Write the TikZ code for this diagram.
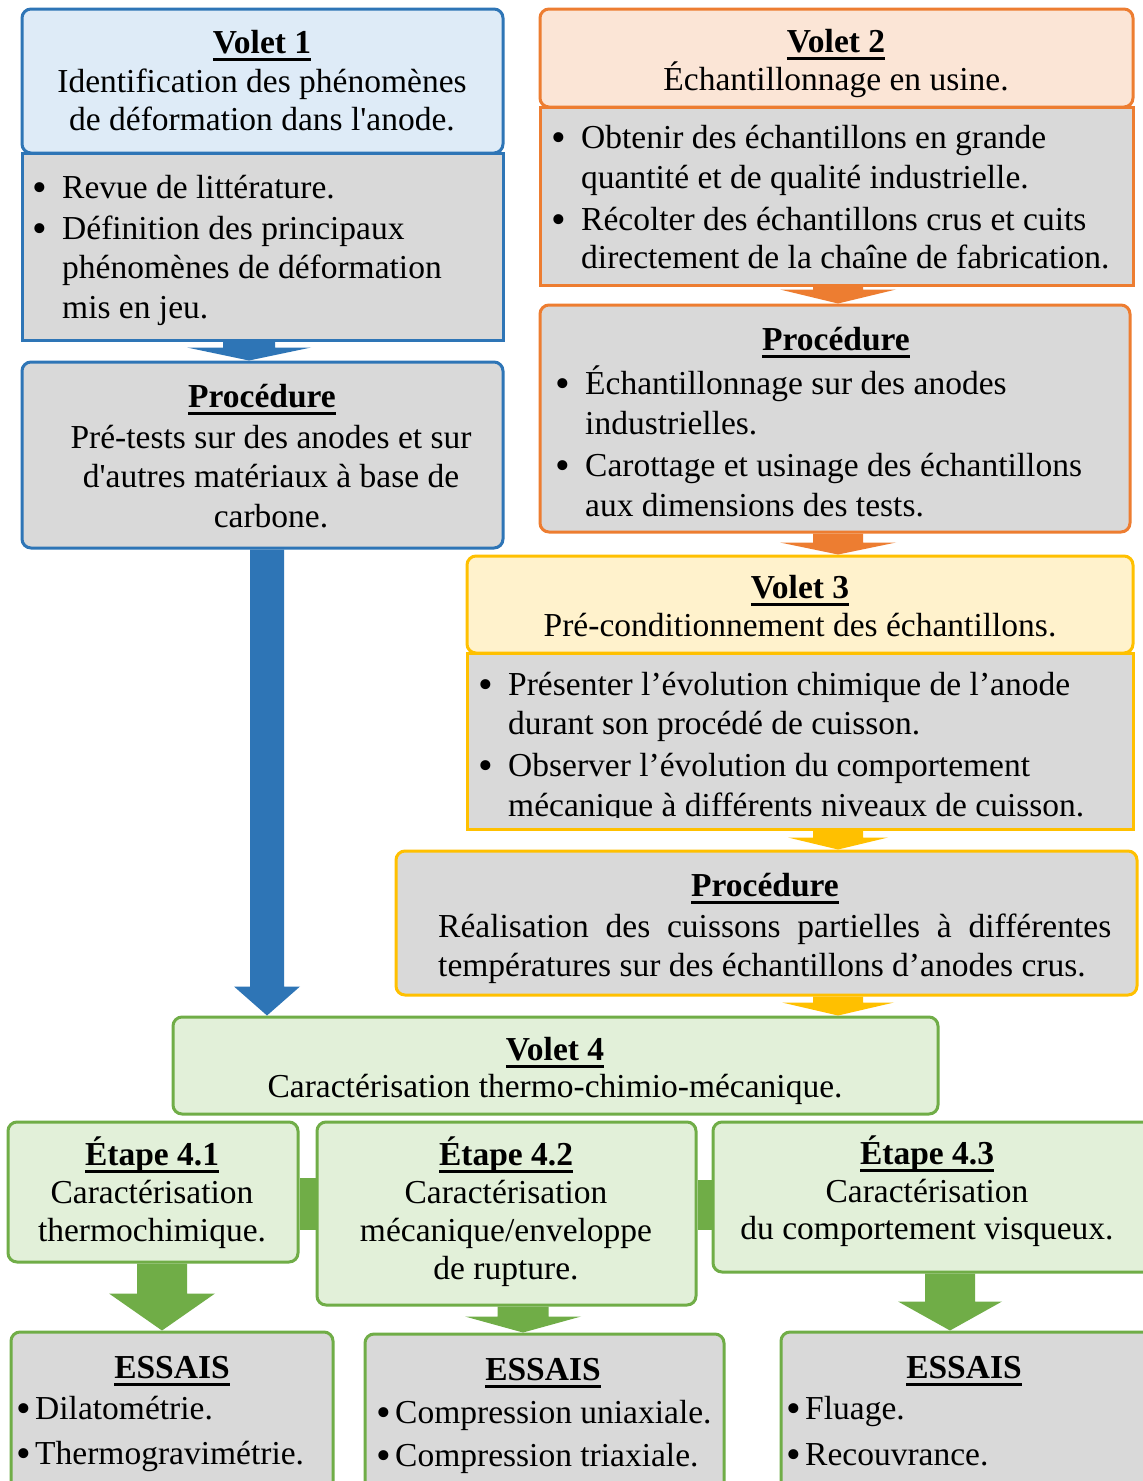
\documentclass[tikz,border=0pt]{standalone}
\usepackage{fontspec}
\usepackage{graphicx}
\newfontfamily\tnr{Liberation Serif}
\usetikzlibrary{fit,calc}
\definecolor{cblue}{HTML}{2E75B6}
\definecolor{lblue}{HTML}{DEEBF7}
\definecolor{corange}{HTML}{ED7D31}
\definecolor{lorange}{HTML}{FBE5D6}
\definecolor{cyellow}{HTML}{FFC000}
\definecolor{lyellow}{HTML}{FFF2CC}
\definecolor{cgreen}{HTML}{70AD47}
\definecolor{lgreen}{HTML}{E2F0D9}
\definecolor{cgray}{HTML}{D9D9D9}
\newcommand\ttl[1]{\setbox0=\hbox{\bfseries #1}\rlap{\rule[-7.5pt]{\wd0}{3pt}}\box0}
\newcommand\cl[2][39pt]{\vtop{\baselineskip=#1\relax\lineskiplimit=-100pt\halign{\hfil##\hfil\cr#2\crcr}}}
\newcommand\lf[2][39pt]{\vtop{\baselineskip=#1\relax\lineskiplimit=-100pt\halign{##\hfil\cr#2\crcr}}}
\newcommand\bigbul{\raisebox{-3pt}{\scalebox{1.25}{•}}}
\newcommand\bul{\llap{\makebox[29.5pt][l]{\bigbul}}}
\newcommand\sbul{\llap{\bigbul\hspace{4pt}}}
\newcommand\dnarrow[7]{% color, x, from, to, shaft hw, head hw, head length
  \fill[#1] let \p1=(#2,0 |- #3.south), \p2=(#2,0 |- #4.north) in
   (\x1-#5pt,\y1) -- (\x1+#5pt,\y1) -- (\x1+#5pt,\y2+#7pt) -- (\x1+#6pt,\y2+#7pt)
   -- (\x2,\y2) -- (\x1-#6pt,\y2+#7pt) -- (\x1-#5pt,\y2+#7pt) -- cycle;}
\begin{document}
\begin{tikzpicture}[x=1pt,y=-1pt,
  box/.style={draw, line width=3pt, inner sep=0pt, rectangle},
  rbox/.style={box, rounded corners=9pt},
  txt/.style={inner sep=0pt, font=\tnr\fontsize{33.5}{39}\selectfont},
  ct/.style={txt, anchor=base},
  lt/.style={txt, anchor=base west}]
\useasboundingbox (0,0) rectangle (1143,1481);
\clip (0,0) rectangle (1143,1481);
\fill[white] (0,0) rectangle (1143,1481);

% ---------- Volet 1 ----------
\node[box, draw=cblue, fill=cgray, fit={(22,153)(503,340)}] (v1b) {};
\node[rbox, draw=cblue, fill=lblue, fit={(22,9)(503,153)}] (v1h) {};
\node[rbox, draw=cblue, fill=cgray, fit={(22,362)(503,548)}] (p1) {};
% ---------- Volet 2 ----------
\node[box, draw=corange, fill=cgray, fit={(540,107)(1133,285)}] (v2b) {};
\node[rbox, draw=corange, fill=lorange, fit={(540,9)(1133,107)}] (v2h) {};
\node[rbox, draw=corange, fill=cgray, fit={(540,305)(1130,532)}] (p2) {};
% ---------- Volet 3 ----------
\node[box, draw=cyellow, fill=cgray, fit={(467,653)(1133,829)}] (v3b) {};
\node[rbox, draw=cyellow, fill=lyellow, fit={(467,556)(1133,653)}] (v3h) {};
\node[rbox, draw=cyellow, fill=cgray, fit={(396,851)(1137,995)}] (p3) {};
% ---------- Volet 4 ----------
\node[rbox, draw=cgreen, fill=lgreen, fit={(173,1017)(938,1114)}] (v4) {};
\node[rbox, draw=cgreen, fill=lgreen, fit={(8,1122)(298,1262)}] (e41) {};
\node[rbox, draw=cgreen, fill=lgreen, fit={(317,1122)(696,1305)}] (e42) {};
\node[rbox, draw=cgreen, fill=lgreen, fit={(713,1122)(1160,1272)}] (e43) {};
\node[rbox, draw=cgreen, fill=cgray, fit={(11,1332)(333,1500)}] (ea) {};
\node[rbox, draw=cgreen, fill=cgray, fit={(365,1334)(724,1500)}] (eb) {};
\node[rbox, draw=cgreen, fill=cgray, fit={(781,1332)(1160,1500)}] (ec) {};

% ---------- texts ----------
\node[ct] (v1t) at (262,53) {\ttl{Volet 1}};
\node[ct] (v1s) at (262,92) {\cl[38pt]{Identification des phénomènes\cr de déformation dans l'anode.}};
\node[lt] (v1i1) at (62,198) {\lf{\bul Revue de littérature.}};
\node[lt] (v1i2) at (62,239) {\lf[39.5pt]{\bul Définition des principaux\cr phénomènes de déformation\cr mis en jeu.}};

\node[ct] (p1t) at (262,407) {\ttl{Procédure}};
\node[ct] (p1s) at (271,448) {\cl[39.5pt]{Pré-tests sur des anodes et sur\cr d'autres matériaux à base de\cr carbone.}};

\node[ct] (v2t) at (836,52) {\ttl{Volet 2}};
\node[ct] (v2s) at (836,90) {Échantillonnage en usine.};
\node[lt] (v2i1) at (581,148) {\lf[40pt]{\bul \makebox[465pt][s]{Obtenir des échantillons en grande}\cr quantité et de qualité industrielle.}};
\node[lt] (v2i2) at (581,230) {\lf[38pt]{\bul Récolter des échantillons crus et cuits\cr directement de la chaîne de fabrication.}};

\node[ct] (p2t) at (836,350) {\ttl{Procédure}};
\node[lt] (p2i1) at (585,394) {\lf[40pt]{\bul Échantillonnage sur des anodes\cr industrielles.}};
\node[lt] (p2i2) at (585,476) {\lf[40pt]{\bul Carottage et usinage des échantillons\cr aux dimensions des tests.}};

\node[ct] (v3t) at (800,598) {\ttl{Volet 3}};
\node[ct] (v3s) at (800,636) {Pré-conditionnement des échantillons.};
\begin{scope}
\clip (467,656) rectangle (1131,817);
\node[lt] (v3i1) at (508,695) {\lf[39pt]{\bul Présenter l’évolution chimique de l’anode\cr durant son procédé de cuisson.}};
\node[lt] (v3i2) at (508,776) {\lf[40pt]{\bul Observer l’évolution du comportement\cr mécanique à différents niveaux de cuisson.}};
\end{scope}

\node[ct] (p3t) at (765,896) {\ttl{Procédure}};
\node[lt] (p3s) at (438,937) {\lf[39pt]{\makebox[673pt][s]{Réalisation des cuissons partielles à différentes}\cr températures sur des échantillons d’anodes crus.}};

\node[ct] (v4t) at (555,1060) {\ttl{Volet 4}};
\node[ct] (v4s) at (555,1097) {Caractérisation thermo-chimio-mécanique.};

\node[ct] (e41t) at (152,1165) {\ttl{Étape 4.1}};
\node[ct] (e41s) at (152,1203) {\cl[38pt]{Caractérisation\cr thermochimique.}};
\node[ct] (e42t) at (506,1165) {\ttl{Étape 4.2}};
\node[ct] (e42s) at (506,1203) {\cl[38pt]{Caractérisation\cr mécanique/enveloppe\cr de rupture.}};
\node[ct] (e43t) at (927,1164) {\ttl{Étape 4.3}};
\node[ct] (e43s) at (927,1202) {\cl[37pt]{Caractérisation\cr du comportement visqueux.}};

\node[ct] (eat) at (172,1378) {\ttl{ESSAIS}};
\node[lt] (eas) at (35,1419) {\lf[45pt]{\sbul Dilatométrie.\cr \sbul Thermogravimétrie.}};
\node[ct] (ebt) at (543,1380) {\ttl{ESSAIS}};
\node[lt] (ebs) at (395,1423) {\lf[43pt]{\sbul Compression uniaxiale.\cr \sbul Compression triaxiale.}};
\node[ct] (ect) at (964,1378) {\ttl{ESSAIS}};
\node[lt] (ecs) at (805,1419) {\lf[46pt]{\sbul Fluage.\cr \sbul Recouvrance.}};

% ---------- connectors ----------
\dnarrow{cblue}{249}{v1b}{p1}{26}{62}{13}
\dnarrow{cblue}{267}{p1}{v4}{17}{33}{29}
\dnarrow{corange}{838}{v2b}{p2}{25}{58}{14}
\dnarrow{corange}{838}{p2}{v3h}{25}{58}{12}
\dnarrow{cyellow}{838}{v3b}{p3}{25}{50}{12}
\dnarrow{cyellow}{838}{p3}{v4}{25}{56}{13}
\dnarrow{cgreen}{162}{e41}{ea}{25}{53}{37}
\dnarrow{cgreen}{523}{e42}{eb}{25.5}{58}{16}
\dnarrow{cgreen}{950}{e43}{ec}{25}{52}{29}
\fill[cgreen] (e41.east |- 0,1178) rectangle (e42.west |- 0,1230);
\fill[cgreen] (e42.east |- 0,1180) rectangle (e43.west |- 0,1230);
\end{tikzpicture}
\end{document}
